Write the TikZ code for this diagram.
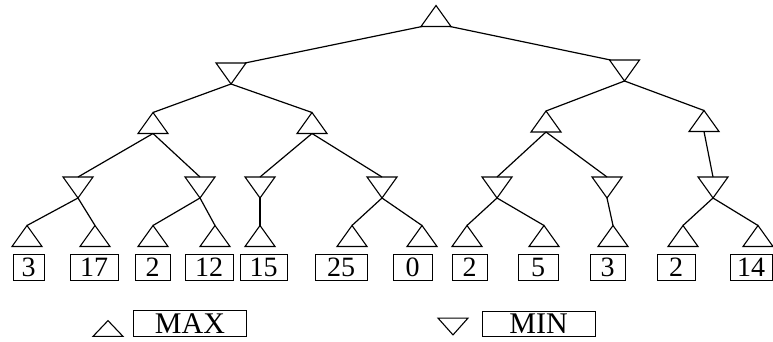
\documentclass[tikz,border=0pt]{standalone}
\usepackage{fontspec}
\setmainfont{Liberation Serif}
\begin{document}
\begin{tikzpicture}[x=1pt,y=-1pt,
  tri/.style={line width=1.1pt, line join=miter},
  conn/.style={line width=1.2pt},
  valbox/.style={draw, line width=1pt, minimum height=26pt, inner sep=0pt, font=\fontsize{28}{28}\selectfont},
  legbox/.style={draw, line width=1pt, inner sep=0pt, font=\fontsize{30}{30}\selectfont},
  maxtri/.pic={\draw[tri] (0,-10.5) -- (15,10.5) -- (-15,10.5) -- cycle;
    \coordinate (-t) at (0,-10.5); \coordinate (-b) at (0,10.5);
    \coordinate (-bl) at (-14,10.5); \coordinate (-br) at (14,10.5);},
  mintri/.pic={\draw[tri] (-15,-10.5) -- (15,-10.5) -- (0,10.5) -- cycle;
    \coordinate (-t) at (0,-10.5); \coordinate (-b) at (0,10.5);
    \coordinate (-tl) at (-14,-10.5); \coordinate (-tr) at (14,-10.5);}
]
\useasboundingbox (0,0) rectangle (773,342);
\fill[white] (0,0) rectangle (773,342);
% level 0
\pic (r) at (436,16) {maxtri};
% level 1
\pic (L) at (231,73.5) {mintri};
\pic (R) at (624.5,70.5) {mintri};
% level 2
\pic (A) at (153,123) {maxtri};
\pic (B) at (312,123) {maxtri};
\pic (C) at (546,121.5) {maxtri};
\pic (D) at (704,121) {maxtri};
% level 3
\pic (a1) at (78,187.5) {mintri};
\pic (a2) at (200,187.5) {mintri};
\pic (b1) at (260,187.5) {mintri};
\pic (b2) at (382,187.5) {mintri};
\pic (c1) at (497,187.5) {mintri};
\pic (c2) at (607,187.5) {mintri};
\pic (d1) at (713,187.5) {mintri};
% leaves
\foreach \n/\x in {l1/27,l2/95,l3/153,l4/215,l5/260,l6/352,l7/422,l8/467,l9/544,l10/613,l11/683,l12/758}
  \pic (\n) at (\x,236) {maxtri};
% values
\node[valbox, minimum width=31pt] (v1) at (28.5,267) {3};
\node[valbox, minimum width=48pt] (v2) at (94,267) {17};
\node[valbox, minimum width=35pt] (v3) at (152.5,267) {2};
\node[valbox, minimum width=48pt] (v4) at (209,267) {12};
\node[valbox, minimum width=47pt] (v5) at (263.5,267) {15};
\node[valbox, minimum width=52pt] (v6) at (341,267) {25};
\node[valbox, minimum width=39pt] (v7) at (412.5,267) {0};
\node[valbox, minimum width=35pt] (v8) at (469.5,267) {2};
\node[valbox, minimum width=40pt] (v9) at (538,267) {5};
\node[valbox, minimum width=35pt] (v10) at (607.5,267) {3};
\node[valbox, minimum width=38pt] (v11) at (676,267) {2};
\node[valbox, minimum width=42pt] (v12) at (751,267) {14};
% connectors
\draw[conn] (r-bl) -- (L-tr);
\draw[conn] (r-br) -- (R-tl);
\draw[conn] (L-b) -- (A-t);
\draw[conn] (L-b) -- (B-t);
\draw[conn] (R-b) -- (C-t);
\draw[conn] (R-b) -- (D-t);
\draw[conn] (A-b) -- (a1-t);
\draw[conn] (A-b) -- (a2-t);
\draw[conn] (B-b) -- (b1-t);
\draw[conn] (B-b) -- (b2-t);
\draw[conn] (C-b) -- (c1-t);
\draw[conn] (C-b) -- (c2-t);
\draw[conn] (D-b) -- (d1-t);
\draw[conn] (a1-b) -- (l1-t);
\draw[conn] (a1-b) -- (l2-t);
\draw[conn] (a2-b) -- (l3-t);
\draw[conn] (a2-b) -- (l4-t);
\draw[conn] (b1-b) -- (l5-t);
\draw[conn] (b2-b) -- (l6-t);
\draw[conn] (b2-b) -- (l7-t);
\draw[conn] (c1-b) -- (l8-t);
\draw[conn] (c1-b) -- (l9-t);
\draw[conn] (c2-b) -- (l10-t);
\draw[conn] (d1-b) -- (l11-t);
\draw[conn] (d1-b) -- (l12-t);
% legend
\pic[yscale=0.75] (gmax) at (108,328.5) {maxtri};
\node[legbox, minimum width=113pt, minimum height=26pt] (kmax) at (190,323.5) {MAX};
\pic[yscale=0.8] (gmin) at (453,326.5) {mintri};
\node[legbox, minimum width=113pt, minimum height=25pt] (kmin) at (538.5,324) {MIN};
\end{tikzpicture}
\end{document}
